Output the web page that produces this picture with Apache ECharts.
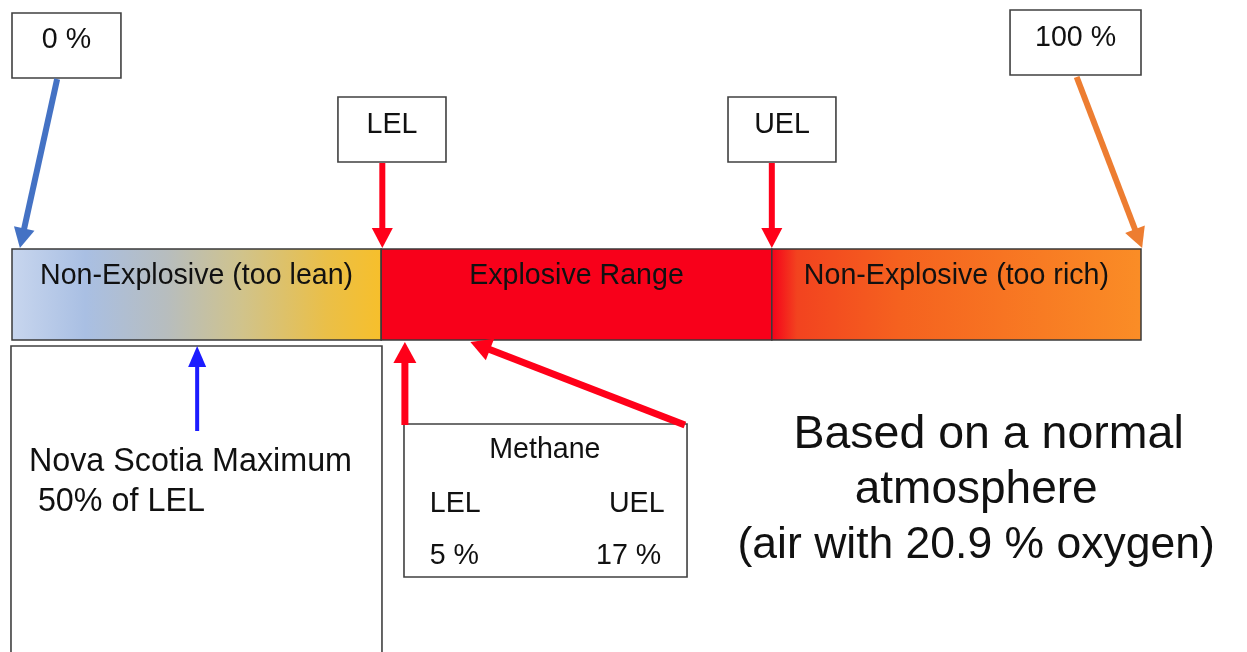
<!DOCTYPE html>
<html>
<head>
<meta charset="utf-8">
<title>Explosive range</title>
<script src="https://cdn.jsdelivr.net/npm/echarts@6/dist/echarts.min.js"></script>
<style>
  html, body { margin: 0; padding: 0; background: #fff; }
  #explosiveRangeChart { width: 1247px; height: 652px; }
</style>
</head>
<body>
<div id="explosiveRangeChart"></div>
<script>
// positions along the scale: 0 = left end of the bar (0 %), 100 = right end (100 %)
const bandNames = ['Non-Explosive (too lean)', 'Explosive Range', 'Non-Explosive (too rich)']
const bandEdges = [0, 32.7, 67.3, 100]
const markerLabels = ['0 %', 'LEL', 'UEL', '100 %']
const markerTargets = [0.7, 32.8, 67.3, 100.1]
const gasName = 'Methane'
const limitNames = ['LEL', 'UEL']
const limitValues = ['5 %', '17 %']
const ruleLines = ['Nova Scotia Maximum', ' 50% of LEL']
const noteLines = ['Based on a normal', 'atmosphere', '(air with 20.9 % oxygen)']

// layout (y is measured downwards from the top of the picture)
const FONT = '"Liberation Sans", Arial, sans-serif'
const TEXT = '#111'
const RED = '#ff0019'
const SMALL = 28.6
const barTop = 249
const barBottom = 340
const bandFills = [
  [[0, '#c8d6ee'], [0.2, '#a9bfe3'], [0.42, '#b7bdbe'], [0.62, '#d0c38c'], [0.85, '#eabf48'], [1, '#f7bf2b']],
  [[0, '#f8001a'], [1, '#f8001a']],
  [[0, '#f5001a'], [0.07, '#f2431f'], [0.35, '#f5621f'], [1, '#fa8d26']]
]
const markerBoxes = [[0, 9.65, 13, 78], [28.87, 38.44, 97, 162], [63.42, 72.98, 97, 162], [88.4, 100, 10, 75]]
const markerTextY = [40.5, 125, 125, 38]
const markerStarts = [[4.0, 79], [32.8, 163], [67.3, 163], [94.3, 77]]
const markerColors = ['#4472c4', RED, RED, '#ed7d31']
const ruleBox = [-0.09, 32.77, 346, 700]
const gasBox = [34.72, 59.79, 424, 577]

// arrows: from, to, colour, shaft width, head width, head length
const arrows = markerStarts.map((s, i) => [s, [markerTargets[i], 248], markerColors[i], 6, 21, 20])
arrows.push([[16.4, 431], [16.4, 346], '#1c1cff', 4, 18, 21])
arrows.push([[34.8, 425], [34.8, 342], RED, 7, 23, 21])
arrows.push([[59.6, 425], [40.6, 342], RED, 7, 23, 21])

function txt(api, x, y, text, size, align) {
  const p = api.coord([x, y])
  return {
    type: 'text',
    style: {
      x: p[0], y: p[1], text: text, fill: TEXT,
      fontFamily: FONT, fontSize: size,
      align: align || 'center', verticalAlign: 'middle'
    }
  }
}

function box(api, b, fill) {
  const a = api.coord([b[0], b[2]])
  const c = api.coord([b[1], b[3]])
  return {
    type: 'rect',
    shape: { x: a[0], y: a[1], width: c[0] - a[0], height: c[1] - a[1] },
    style: { fill: fill || '#fff', stroke: '#404040', lineWidth: 1.6 }
  }
}

function arrowShape(api, from, to, color, width, headW, headL) {
  const a = api.coord(from)
  const b = api.coord(to)
  const len = Math.hypot(b[0] - a[0], b[1] - a[1])
  const ux = (b[0] - a[0]) / len
  const uy = (b[1] - a[1]) / len
  const bx = b[0] - ux * headL
  const by = b[1] - uy * headL
  return {
    type: 'group',
    children: [
      { type: 'line', shape: { x1: a[0], y1: a[1], x2: bx + ux, y2: by + uy }, style: { stroke: color, lineWidth: width } },
      {
        type: 'polygon',
        shape: { points: [[b[0], b[1]], [bx - uy * headW / 2, by + ux * headW / 2], [bx + uy * headW / 2, by - ux * headW / 2]] },
        style: { fill: color }
      }
    ]
  }
}

const chart = echarts.init(document.getElementById('explosiveRangeChart'), null, { renderer: 'canvas' })

const option = {
  animation: false,
  backgroundColor: '#fff',
  grid: { left: 12, right: 106, top: 0, bottom: 0 },
  xAxis: { type: 'value', min: 0, max: 100, show: false },
  yAxis: { type: 'value', min: 0, max: 652, inverse: true, show: false },
  series: [
    {
      // lower boxes sit under the bar and arrows
      type: 'custom',
      name: 'notes',
      data: [0],
      renderItem(params, api) {
        const children = [box(api, ruleBox), box(api, gasBox)]
        children.push(txt(api, 1.5, 462, ruleLines[0], 32.3, 'left'))
        children.push(txt(api, 1.5, 502, ruleLines[1], 32.3, 'left'))
        children.push(txt(api, 47.2, 450.5, gasName, SMALL))
        children.push(txt(api, 37.0, 504.5, limitNames[0], SMALL, 'left'))
        children.push(txt(api, 57.8, 504.5, limitNames[1], SMALL, 'right'))
        children.push(txt(api, 37.0, 556.5, limitValues[0], SMALL, 'left'))
        children.push(txt(api, 57.5, 556.5, limitValues[1], SMALL, 'right'))
        children.push(txt(api, 86.5, 435.5, noteLines[0], 46.5))
        children.push(txt(api, 85.4, 490.5, noteLines[1], 46))
        children.push(txt(api, 85.4, 546, noteLines[2], 44.5))
        return { type: 'group', children: children }
      }
    },
    {
      type: 'custom',
      name: 'bands',
      data: bandNames.map((n, i) => [bandEdges[i], bandEdges[i + 1], i]),
      renderItem(params, api) {
        const i = api.value(2)
        const a = api.coord([api.value(0), barTop])
        const c = api.coord([api.value(1), barBottom])
        const stops = bandFills[i].map(s => ({ offset: s[0], color: s[1] }))
        return {
          type: 'group',
          children: [
            {
              type: 'rect',
              shape: { x: a[0], y: a[1], width: c[0] - a[0], height: c[1] - a[1] },
              style: { fill: new echarts.graphic.LinearGradient(0, 0, 1, 0, stops), stroke: '#3a3a3a', lineWidth: 1.5 }
            },
            txt(api, (api.value(0) + api.value(1)) / 2, 276.5, bandNames[i], SMALL)
          ]
        }
      }
    },
    {
      type: 'custom',
      name: 'markers',
      data: markerLabels.map((m, i) => i),
      renderItem(params, api) {
        const i = api.value(0)
        const b = markerBoxes[i]
        return {
          type: 'group',
          children: [box(api, b), txt(api, (b[0] + b[1]) / 2, markerTextY[i], markerLabels[i], SMALL)]
        }
      }
    },
    {
      type: 'custom',
      name: 'arrows',
      data: arrows.map((a, i) => i),
      renderItem(params, api) {
        const a = arrows[api.value(0)]
        return arrowShape(api, a[0], a[1], a[2], a[3], a[4], a[5])
      }
    }
  ]
}

chart.setOption(option, true)
window.addEventListener('resize', () => chart.resize())
</script>
</body>
</html>
